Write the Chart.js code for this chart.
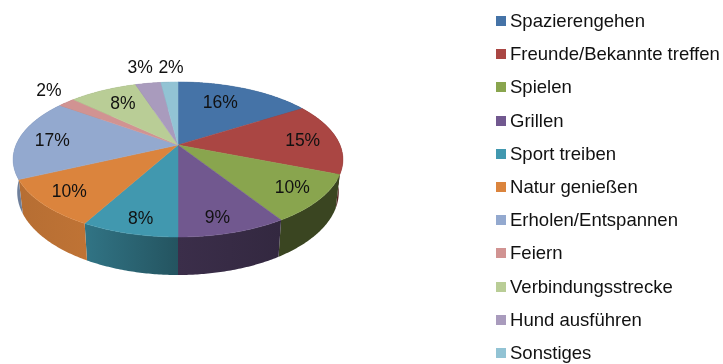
<!DOCTYPE html>
<html lang="de">
<head>
<meta charset="utf-8">
<title>Kreisdiagramm</title>
<script src="https://cdn.jsdelivr.net/npm/chart.js@4"></script>
<style>
    html, body { margin: 0; background: #fff; }
    #wrap { position: relative; width: 723px; height: 364px; overflow: hidden; filter: blur(0.3px); }
    #legend { position: absolute; left: 0; top: 0; margin: 0; padding: 0; list-style: none;
              font: 18.55px "Liberation Sans", Arial, sans-serif; color: #111; }
    #legend li { position: absolute; left: 496px; height: 20px; line-height: 20px; white-space: nowrap; }
    #legend i { position: absolute; left: 0; top: 5px; width: 10px; height: 10px; }
    #legend span { position: absolute; left: 14px; top: 0; }
</style>
</head>
<body>
<div id="wrap">
    <canvas id="pieChart" width="723" height="364"></canvas>
    <ul id="legend"></ul>
</div>
<script>
const categories = ['Spazierengehen', 'Freunde/Bekannte treffen', 'Spielen', 'Grillen', 'Sport treiben',
    'Natur genießen', 'Erholen/Entspannen', 'Feiern', 'Verbindungsstrecke', 'Hund ausführen', 'Sonstiges'];
const shares = [16, 15, 10, 9, 8, 10, 17, 2, 8, 3, 2];
const sliceColors = ['#4573a7', '#aa4643', '#89a54e', '#71588f', '#4198af', '#db843d',
    '#93a9cf', '#d19392', '#b9cd96', '#a99bbd', '#92c3d4'];

// how dark each slice's side wall is, left and right end
const wallShade = [[.6, .6], [.5, .5], [.42, .42], [.52, .45], [.76, .55], [.83, .87],
    [.75, .75], [.7, .7], [.7, .7], [.7, .7], [.7, .7]];

// pie projection (the 3D pie has perspective, so the apex is not the ellipse centre)
const pie = { cx: 178, cy: 145, sx: 162, sy: 74.8, k: 0.187 };
const labelRadius = [.72, .72, .72, .72, .72, .72, .72, 1.2, .72, 1.2, 1.2];
const labelNudge = [[-8, 0], [10, 1], [16, 6], [2, 14], [-4, 14], [-15, 7], [-11, 1], [2, -4], [1, 0], [-3, -5], [3, -4]];

function project(angle, r) {
    const u = r * Math.cos(angle);
    const v = r * Math.sin(angle);
    const w = 1 - pie.k * v;
    return { x: pie.cx + pie.sx * u / w, y: pie.cy + pie.sy * v / w };
}

// same rim point, on the lower disc
function lower(p) {
    return { x: pie.cx + (p.x - pie.cx) * 0.975, y: 275 + 1.07 * (p.y - 237) };
}

function rim(start, end) {
    const pts = [];
    const steps = Math.max(2, Math.ceil((end - start) * 90));
    for (let i = 0; i <= steps; i++) {
        pts.push(project(start + (end - start) * i / steps, 1));
    }
    return pts;
}

function shade(hex, f) {
    const n = parseInt(hex.slice(1), 16);
    return `rgb(${Math.round((n >> 16) * f)},${Math.round(((n >> 8) & 255) * f)},${Math.round((n & 255) * f)})`;
}

const pie3d = {
    id: 'pie3d',
    beforeDatasetsDraw(chart) {
        const ctx = chart.ctx;
        const arcs = chart.getDatasetMeta(0).data;

        // side walls first, the top covers whatever is at the back
        arcs.forEach((arc, i) => {
            const top = rim(arc.startAngle, arc.endAngle);
            const bottom = top.map(lower).reverse();
            const xs = top.concat(bottom).map(p => p.x);
            const grad = ctx.createLinearGradient(Math.min(...xs), 0, Math.max(...xs), 0);
            grad.addColorStop(0, shade(sliceColors[i], wallShade[i][0]));
            grad.addColorStop(1, shade(sliceColors[i], wallShade[i][1]));
            ctx.beginPath();
            top.concat(bottom).forEach((p, j) => j ? ctx.lineTo(p.x, p.y) : ctx.moveTo(p.x, p.y));
            ctx.closePath();
            ctx.fillStyle = grad;
            ctx.fill();
        });

        arcs.forEach((arc, i) => {
            ctx.beginPath();
            ctx.moveTo(pie.cx, pie.cy);
            rim(arc.startAngle, arc.endAngle).forEach(p => ctx.lineTo(p.x, p.y));
            ctx.closePath();
            ctx.fillStyle = sliceColors[i];
            ctx.strokeStyle = sliceColors[i];
            ctx.lineWidth = 0.5;
            ctx.fill();
            ctx.stroke();
        });

        ctx.font = '17.5px "Liberation Sans", Arial, sans-serif';
        ctx.fillStyle = '#111';
        ctx.textAlign = 'center';
        ctx.textBaseline = 'middle';
        arcs.forEach((arc, i) => {
            const p = project((arc.startAngle + arc.endAngle) / 2, labelRadius[i]);
            ctx.fillText(shares[i] + '%', p.x + labelNudge[i][0], p.y + labelNudge[i][1]);
        });
        return false;
    }
};

document.addEventListener('DOMContentLoaded', function () {
    const chart = new Chart(document.getElementById('pieChart').getContext('2d'), {
        type: 'pie',
        data: {
            labels: categories,
            datasets: [{ data: shares, backgroundColor: sliceColors }]
        },
        options: {
            responsive: false,
            animation: false,
            plugins: { legend: { display: false }, tooltip: { enabled: false } }
        },
        plugins: [pie3d]
    });

    const legend = document.getElementById('legend');
    Chart.overrides.pie.plugins.legend.labels.generateLabels(chart).forEach((item, i) => {
        const li = document.createElement('li');
        li.style.top = (11 + i * 33.2) + 'px';
        const box = document.createElement('i');
        box.style.background = item.fillStyle;
        const text = document.createElement('span');
        text.textContent = item.text;
        li.append(box, text);
        legend.appendChild(li);
    });
});
</script>
</body>
</html>
